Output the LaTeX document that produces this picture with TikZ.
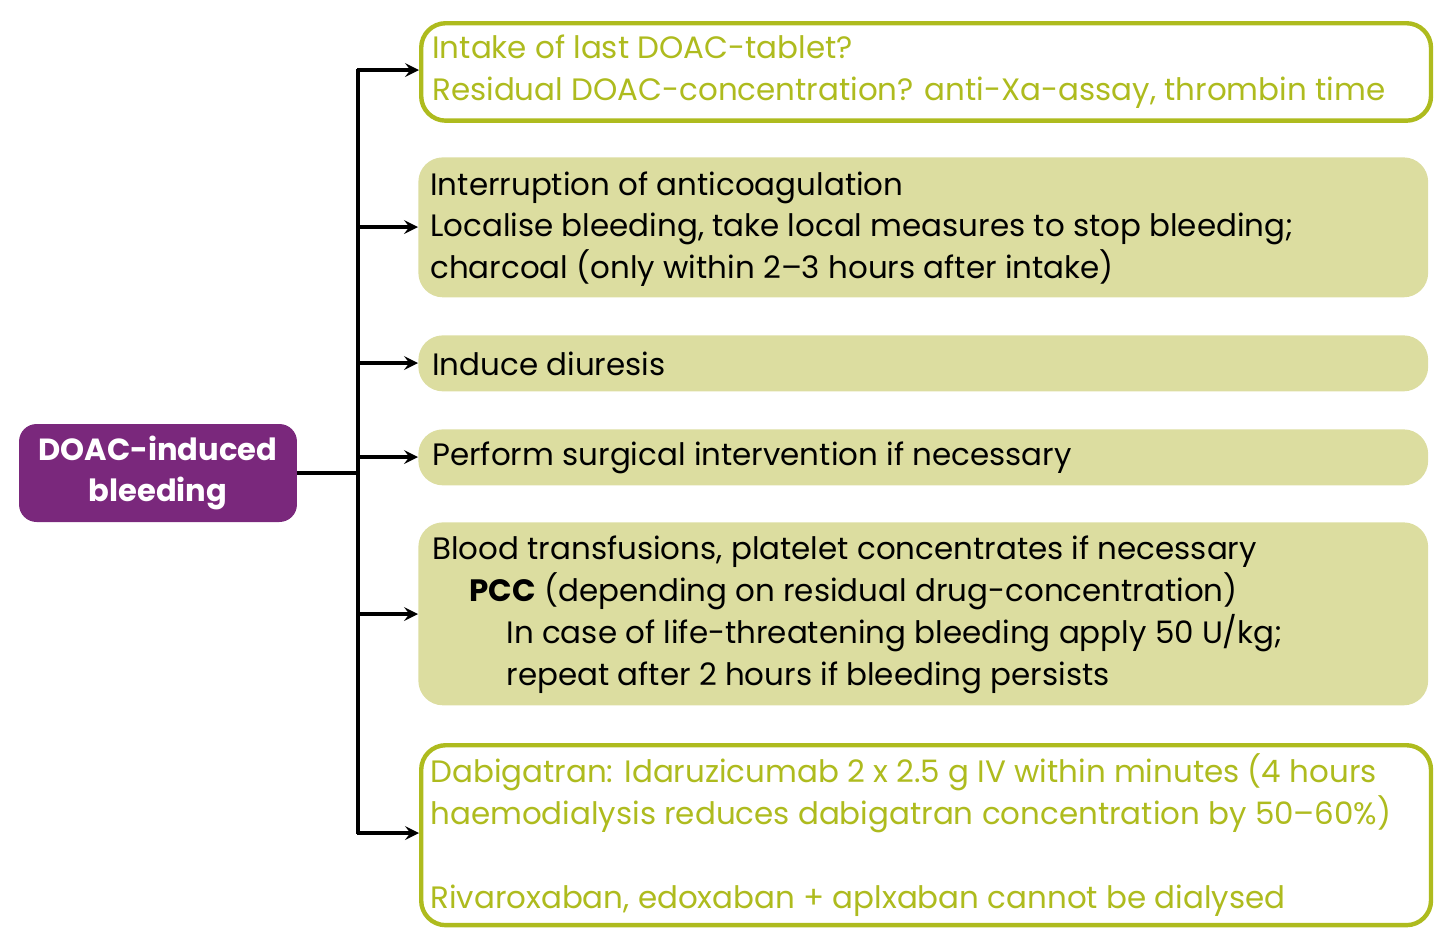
\documentclass[tikz,border=0pt]{standalone}
\usepackage{fontspec}
\setmainfont{Poppins}
\usetikzlibrary{positioning}
\definecolor{lime}{HTML}{AEBB1E}
\definecolor{limefill}{HTML}{DCDDA0}
\definecolor{plum}{HTML}{7A287C}
\tikzset{
  plain/.style={rectangle, rounded corners=14pt, minimum width=20.2cm, anchor=north west, inner sep=0pt},
  outline/.style={plain, draw=lime, line width=2.5pt, fill=white},
  shaded/.style={plain, fill=limefill},
  txt/.style={anchor=west, align=left, inner sep=0pt, font=\fontsize{17.6}{23.8}\selectfont},
  arr/.style={->, >=stealth, line width=2.4pt}
}
\begin{document}
\begin{tikzpicture}[x=0.02cm,y=-0.02cm]
  \useasboundingbox (0,0) rectangle (1456,951);
  % root
  \node[rectangle, rounded corners=10pt, fill=plum, minimum width=5.56cm, minimum height=1.96cm,
        align=center, text=white, font=\fontsize{17.4}{23.8}\selectfont\bfseries] (root) at (158,473)
        {DOAC-induced\\bleeding};
  % boxes
  \node[outline, minimum height=1.95cm] (b1) at (419,21) {};
  \node[shaded, minimum height=2.8cm] (b2) at (418,157) {};
  \node[shaded, minimum height=1.12cm] (b3) at (418,335) {};
  \node[shaded, minimum height=1.12cm] (b4) at (418,429) {};
  \node[shaded, minimum height=3.66cm] (b5) at (418,522) {};
  \node[outline, minimum height=3.6cm] (b6) at (419,743) {};
  % texts
  \node[txt, text=lime] (t1) at (432,72) {Intake of last DOAC-tablet?\\Residual DOAC-concentration? anti-Xa-assay, thrombin time};
  \node[txt] (t2) at (430,229) {Interruption of anticoagulation\\Localise bleeding, take local measures to stop bleeding;\\charcoal (only within 2–3 hours after intake)};
  \node[txt] (t3) at (432,364) {Induce diuresis};
  \node[txt] (t4) at (432,458) {Perform surgical intervention if necessary};
  \node[txt] (t5) at (432,615) {Blood transfusions, platelet concentrates if necessary\\
    \hspace*{1.2em}\textbf{PCC} (depending on residual drug-concentration)\\
    \hspace*{2.4em}In case of life-threatening bleeding apply 50 U/kg;\\
    \hspace*{2.4em}repeat after 2 hours if bleeding persists};
  \node[txt, text=lime] (t6) at (430,835) {Dabigatran: Idaruzicumab 2 x 2.5 g IV within minutes (4 hours\\haemodialysis reduces dabigatran concentration by 50–60\%)\\[23.8pt]Rivaroxaban, edoxaban + aplxaban cannot be dialysed};
  % connectors
  \coordinate (trunk) at (358,473);
  \draw[line width=2.4pt] (root.east) -- (trunk);
  \draw[line width=2.4pt] (358,69) -- (358,834);
  \foreach \b/\y in {b1/70,b2/227,b3/363,b4/457,b5/614,b6/833}
    \draw[arr] (357,\y) -- (\b.west |- 0,\y);
\end{tikzpicture}
\end{document}
